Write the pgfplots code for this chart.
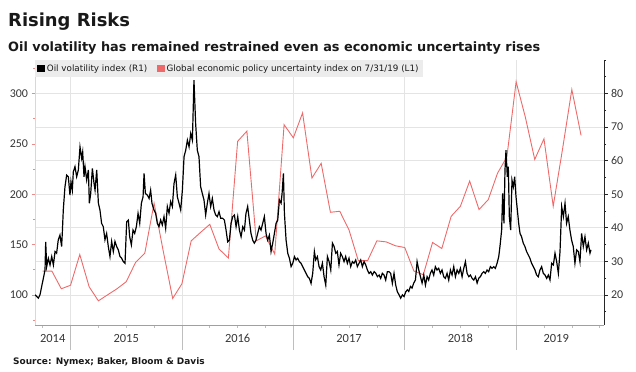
\documentclass[border=0pt]{standalone}
\usepackage{fontspec}
\setmainfont{DejaVu Sans}
\newfontfamily\tickfont{Carlito}
\usepackage{pgfplots}
\pgfplotsset{compat=1.18}
\definecolor{redc}{RGB}{238,106,106}
\definecolor{redtick}{RGB}{230,140,140}
\definecolor{pinkax}{RGB}{243,205,205}
\definecolor{gridc}{RGB}{228,228,228}
\definecolor{sepc}{RGB}{190,190,190}
\definecolor{axc}{RGB}{160,160,160}
\definecolor{legc}{RGB}{236,236,236}
\definecolor{labc}{RGB}{55,55,55}
\definecolor{titc}{RGB}{25,25,25}
\pgfplotsset{base/.style={at={(35bp,46bp)}, anchor=south west, scale only axis,
  width=569bp, height=265bp, xmin=2014.681, xmax=2019.789}}
\begin{document}
\begin{tikzpicture}[x=1bp,y=1bp]
\useasboundingbox (0,0) rectangle (636,371);
\node[anchor=base west, inner sep=0, text=titc, font=\fontsize{18}{18}\selectfont\bfseries] at (8,345) {Rising Risks};
\node[anchor=base west, inner sep=0, text=titc, font=\fontsize{12.9}{12.9}\selectfont\bfseries] at (8,320) {Oil volatility has remained restrained even as economic uncertainty rises};
\node[anchor=base west, inner sep=0, text=titc, font=\fontsize{9}{9}\selectfont\bfseries] at (13,7) {Source: Nymex; Baker, Bloom \& Davis};

% background decorations: grids, bottom axis, separators, quarter ticks
\begin{axis}[base, ymin=11, ymax=90,
  axis x line*=bottom, axis y line*=right, y axis line style={draw=none},
  ytick={20,30,...,80}, yticklabels={}, ytick style={draw=none}, ymajorgrids,
  xtick={2015,2016,2017,2018,2019}, xticklabels={}, xmajorgrids,
  grid style={gridc, line width=0.6bp},
  major tick length=25bp, minor tick length=3bp, tick align=outside,
  xtick style={sepc, line width=0.6bp},
  minor xtick={2014.75,2015,2015.25,2015.5,2015.75,2016,2016.25,2016.5,2016.75,2017,2017.25,2017.5,2017.75,2018,2018.25,2018.5,2018.75,2019,2019.25,2019.5,2019.75},
  x axis line style={draw=axc, line width=0.6bp}]
\end{axis}

% left axis: economic policy uncertainty
\begin{axis}[base, ymin=70, ymax=333.3,
  axis x line=none, axis y line*=left,
  ytick={100,150,...,300}, minor ytick={75,125,...,325},
  tick align=outside, major tick length=3.5bp, minor tick length=2bp,
  y axis line style={pinkax, line width=0.8bp},
  ytick style={redtick, line width=0.6bp},
  /pgf/number format/assume math mode=true,
  yticklabel style={font=\tickfont\fontsize{12}{12}\selectfont, text=labc}]
\addplot[redc, line width=0.9bp] table {
2014.750 123.5
2014.833 123.5
2014.917 106
2015.000 109.5
2015.083 140
2015.167 108
2015.250 94
2015.333 100
2015.417 106
2015.500 113
2015.583 132
2015.667 141.5
2015.750 191
2015.833 143
2015.917 96.4
2016.000 111
2016.083 153.6
2016.167 162
2016.250 170
2016.333 145.5
2016.417 136.6
2016.500 252.5
2016.583 262.6
2016.667 153.6
2016.750 158.5
2016.833 140.5
2016.917 269
2017.000 256
2017.083 280.7
2017.167 216
2017.250 230.6
2017.333 182
2017.417 183
2017.500 164.4
2017.583 134
2017.667 134
2017.750 153.6
2017.833 152.6
2017.917 148.7
2018.000 147
2018.083 123.5
2018.167 120
2018.250 152
2018.333 146
2018.417 178
2018.500 188
2018.583 213
2018.667 184.7
2018.750 194.6
2018.833 220.8
2018.917 237
2019.000 311.7
2019.083 276.4
2019.167 234.5
2019.250 255
2019.333 188
2019.417 245
2019.500 304
2019.583 258.4
};
\end{axis}

% right axis: oil volatility
\begin{axis}[base, ymin=11, ymax=90,
  axis x line=none, axis y line*=right,
  ytick={20,30,...,80}, minor ytick={15,25,...,85,90},
  tick align=outside, major tick length=3.5bp, minor tick length=2bp,
  y axis line style={black!85, line width=0.8bp},
  ytick style={black!85, line width=0.6bp},
  /pgf/number format/assume math mode=true,
  yticklabel style={font=\tickfont\fontsize{12}{12}\selectfont, text=labc},
  legend columns=2,
  legend cell align=left,
  legend image code/.code={\fill[#1] (0bp,-3bp) rectangle (6.5bp,3.5bp);},
  legend style={at={(0,1)}, anchor=north west, fill=legc, draw=none,
    font=\fontsize{8.8}{9}\selectfont, text=titc, inner xsep=2bp, inner ysep=2.5bp,
    /tikz/every even column/.append style={column sep=8bp}}]
\addplot[black, line width=1.2bp] table {
2014.681 20.0
2014.711 19.0
2014.726 20.0
2014.741 22.5
2014.756 24.9
2014.771 27.4
2014.777 35.8
2014.786 28.4
2014.801 30.9
2014.816 28.9
2014.831 31.4
2014.846 28.9
2014.861 32.9
2014.875 32.4
2014.890 36.4
2014.905 37.8
2014.920 34.4
2014.926 38.3
2014.935 45.3
2014.950 52.2
2014.965 55.7
2014.980 55.2
2014.995 49.7
2015.004 53.7
2015.016 51.2
2015.025 56.7
2015.040 58.2
2015.055 55.2
2015.070 57.2
2015.085 64.1
2015.100 60.7
2015.109 62.6
2015.121 55.2
2015.130 58.2
2015.145 54.2
2015.160 57.2
2015.169 47.3
2015.181 50.2
2015.196 57.7
2015.211 53.2
2015.220 51.2
2015.235 57.2
2015.250 47.3
2015.264 45.3
2015.279 41.3
2015.294 40.3
2015.309 36.4
2015.324 38.3
2015.339 34.4
2015.354 31.4
2015.369 35.9
2015.384 32.9
2015.399 35.9
2015.414 34.4
2015.429 33.4
2015.444 31.4
2015.459 30.9
2015.474 29.9
2015.489 29.4
2015.504 41.8
2015.519 42.3
2015.531 37.3
2015.546 34.9
2015.561 39.3
2015.576 38.3
2015.591 40.3
2015.606 44.3
2015.621 41.3
2015.636 47.3
2015.651 49.2
2015.660 56.2
2015.672 50.2
2015.690 49.7
2015.705 48.7
2015.719 51.2
2015.731 47.3
2015.749 45.3
2015.764 44.3
2015.779 41.3
2015.794 40.3
2015.809 42.3
2015.824 40.8
2015.839 43.3
2015.854 39.8
2015.869 46.3
2015.884 44.3
2015.899 47.8
2015.914 46.3
2015.929 53.2
2015.944 55.7
2015.959 49.2
2015.974 47.3
2015.989 45.3
2016.004 51.2
2016.019 61.2
2016.034 63.1
2016.049 66.1
2016.064 64.1
2016.079 68.1
2016.094 66.1
2016.108 84.0
2016.123 71.1
2016.138 63.1
2016.153 61.2
2016.168 52.2
2016.183 50.2
2016.198 48.3
2016.213 43.8
2016.228 47.3
2016.243 50.2
2016.258 46.3
2016.273 48.7
2016.288 45.3
2016.303 43.8
2016.318 43.3
2016.333 44.8
2016.348 42.8
2016.366 42.8
2016.381 42.3
2016.396 39.3
2016.411 35.8
2016.426 36.3
2016.441 41.3
2016.456 43.3
2016.471 43.8
2016.486 40.3
2016.501 43.3
2016.516 39.3
2016.531 37.3
2016.546 40.3
2016.561 39.3
2016.575 44.3
2016.590 46.3
2016.605 42.3
2016.620 38.3
2016.635 36.3
2016.650 35.4
2016.665 36.3
2016.680 38.3
2016.695 40.3
2016.710 39.3
2016.725 41.3
2016.740 43.3
2016.755 38.3
2016.770 36.3
2016.785 37.8
2016.800 32.9
2016.815 35.4
2016.830 38.3
2016.845 41.3
2016.860 42.3
2016.875 48.3
2016.890 47.3
2016.899 50.2
2016.911 56.2
2016.920 44.3
2016.935 36.3
2016.950 32.4
2016.965 30.9
2016.980 28.4
2016.995 29.4
2017.010 31.4
2017.025 30.4
2017.039 30.9
2017.054 29.9
2017.069 29.4
2017.084 28.4
2017.099 27.4
2017.114 26.4
2017.129 25.4
2017.144 24.9
2017.159 23.4
2017.174 26.4
2017.189 32.9
2017.201 30.4
2017.216 31.4
2017.231 28.4
2017.246 27.4
2017.261 29.4
2017.276 25.4
2017.291 22.9
2017.306 31.4
2017.321 29.9
2017.336 27.4
2017.351 35.4
2017.366 34.4
2017.381 32.4
2017.395 32.9
2017.410 28.9
2017.425 32.4
2017.440 31.4
2017.455 29.9
2017.470 31.4
2017.485 29.4
2017.500 30.9
2017.515 28.4
2017.530 29.9
2017.545 29.4
2017.560 30.4
2017.575 28.4
2017.590 29.4
2017.605 30.4
2017.620 28.4
2017.635 29.9
2017.650 28.9
2017.665 27.4
2017.680 26.4
2017.695 26.9
2017.710 25.9
2017.725 26.9
2017.740 26.4
2017.755 25.4
2017.770 25.9
2017.784 24.9
2017.799 26.4
2017.814 25.9
2017.829 24.4
2017.844 26.9
2017.859 26.9
2017.874 26.4
2017.889 23.4
2017.904 26.4
2017.919 22.9
2017.934 20.9
2017.949 20.0
2017.964 19.0
2017.979 20.0
2017.994 19.5
2018.009 20.9
2018.024 21.5
2018.036 21.0
2018.051 22.5
2018.066 22.0
2018.081 23.5
2018.096 24.4
2018.111 29.9
2018.126 27.4
2018.141 25.4
2018.156 23.5
2018.171 25.9
2018.186 22.9
2018.201 25.4
2018.215 24.4
2018.230 26.4
2018.245 27.4
2018.260 25.9
2018.275 28.4
2018.290 27.4
2018.305 27.9
2018.320 26.4
2018.335 27.4
2018.350 25.4
2018.365 24.9
2018.380 26.4
2018.395 24.4
2018.410 27.4
2018.425 25.9
2018.440 28.4
2018.455 25.4
2018.470 27.4
2018.485 26.4
2018.500 27.9
2018.515 25.4
2018.530 27.9
2018.545 29.9
2018.560 26.4
2018.575 25.4
2018.590 25.9
2018.605 24.9
2018.620 24.4
2018.635 25.4
2018.650 23.5
2018.664 24.9
2018.679 25.4
2018.694 26.4
2018.709 26.9
2018.724 26.4
2018.739 27.4
2018.754 26.9
2018.769 28.4
2018.784 27.9
2018.799 28.4
2018.814 27.9
2018.829 29.4
2018.844 31.4
2018.855 34.4
2018.870 39.3
2018.879 50.2
2018.891 41.3
2018.900 57.2
2018.909 63.1
2018.921 55.2
2018.930 58.2
2018.939 43.3
2018.951 39.3
2018.963 54.2
2018.975 52.2
2018.987 55.2
2018.999 49.2
2019.011 45.3
2019.023 41.3
2019.035 38.3
2019.049 37.3
2019.064 35.4
2019.079 34.4
2019.094 32.9
2019.109 31.9
2019.124 30.9
2019.139 29.4
2019.154 28.4
2019.169 27.4
2019.184 25.9
2019.199 25.4
2019.214 27.4
2019.229 28.4
2019.244 26.4
2019.259 25.9
2019.274 24.9
2019.289 25.9
2019.304 24.4
2019.319 29.4
2019.334 28.9
2019.349 32.4
2019.364 29.9
2019.379 26.4
2019.394 32.9
2019.409 46.3
2019.424 43.3
2019.439 47.3
2019.453 41.3
2019.468 43.3
2019.483 39.3
2019.498 36.3
2019.513 34.4
2019.528 29.4
2019.543 33.4
2019.558 32.9
2019.573 29.9
2019.588 38.3
2019.603 34.4
2019.618 37.3
2019.633 33.4
2019.648 35.4
2019.663 32.4
2019.672 33.4
};
\addlegendentry{Oil volatility index (R1)}
\addlegendimage{redc, line width=0.9bp}
\addlegendentry{Global economic policy uncertainty index on 7/31/19 (L1)}
\end{axis}

% year labels
\begin{axis}[base, ymin=0, ymax=1,
  axis y line=none, axis x line*=bottom, x axis line style={draw=none},
  xtick={2014.84,2015.5,2016.5,2017.5,2018.5,2019.36},
  xticklabels={2014,2015,2016,2017,2018,2019},
  xtick style={draw=none}, major tick length=0bp,
  xticklabel style={font=\tickfont\fontsize{12.5}{12.5}\selectfont, text=labc, yshift=-5.5bp}]
\end{axis}
\end{tikzpicture}
\end{document}
